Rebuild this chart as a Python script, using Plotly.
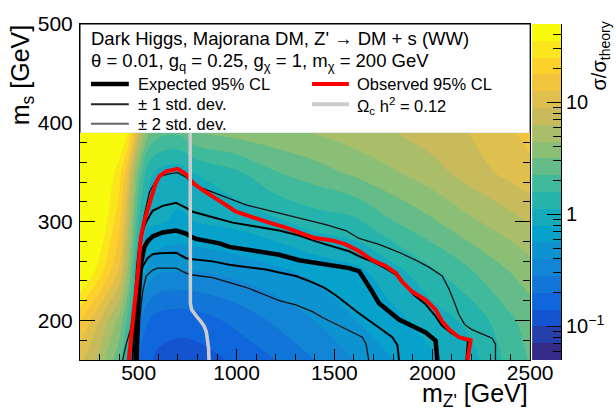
import numpy as np
import plotly.graph_objects as go

# ---------------------------------------------------------------------------
# Grid of the observed limit sigma/sigma_theory
# ---------------------------------------------------------------------------
mzp_grid = [200, 300, 400, 440, 470, 500, 550, 600, 700, 800, 1000, 1200,
            1400, 1600, 1800, 2000, 2200, 2400, 2500]
ms_grid = [160, 200, 250, 300, 350, 390]

mu_ms160 = [10, 5.5, 2.5, 1.2, 0.45, 0.2, 0.15, 0.13, 0.12, 0.12, 0.15, 0.2,
            0.28, 0.4, 0.56, 0.75, 0.98, 1.8, 2.3]
mu_ms200 = [18, 9, 4, 2.2, 1.15, 0.3, 0.2, 0.17, 0.16, 0.17, 0.22, 0.3,
            0.4, 0.55, 0.72, 0.92, 1.25, 2.1, 2.6]
mu_ms250 = [60, 30, 12, 5, 2.2, 0.8, 0.5, 0.42, 0.4, 0.4, 0.45, 0.52,
            0.62, 0.72, 0.98, 1.5, 2.2, 3.2, 3.8]
mu_ms300 = [60, 50, 20, 8, 3.5, 1.6, 0.85, 0.82, 0.75, 0.8, 0.88, 1.05,
            1.3, 1.45, 2.2, 3.0, 4.2, 5.5, 6.5]
mu_ms350 = [60, 60, 30, 15, 6, 2.8, 1.25, 1.02, 0.93, 1.15, 1.5, 2.2,
            2.7, 3.4, 4.3, 5.5, 7.5, 10, 11.5]
mu_ms390 = [60, 60, 50, 38, 18, 8, 3.3, 2.5, 2.35, 3.2, 3.6, 4.0,
            4.5, 5.3, 6.2, 7.5, 9.0, 12, 14]

# ---------------------------------------------------------------------------
# 95% CL exclusion contours (m_Z', m_s) in GeV
# ---------------------------------------------------------------------------
obs_mzp = [449, 461, 478, 490, 497, 504, 512, 529, 545, 563, 585, 606, 640,
           699, 742, 765, 784, 827, 878, 929, 997, 1082, 1167, 1252, 1320,
           1389, 1490, 1558, 1626, 1694, 1762, 1813, 1847, 1898, 1966, 2017,
           2051, 2085, 2136, 2196, 2179]
obs_ms = [160, 182, 207, 230, 250, 268, 285, 301, 312, 322, 338, 346, 351,
          353.5, 348, 342, 338, 332, 326, 319, 310, 304, 299, 294, 289,
          284, 281, 277, 270, 261, 255, 248, 239, 229, 221, 211,
          199, 191, 183, 180, 160]

exp_mzp = [485, 490, 497, 504, 512, 529, 545, 571, 622, 691, 742, 765, 793,
           861, 912, 963, 1048, 1133, 1218, 1320, 1405, 1490, 1575, 1626,
           1660, 1694, 1728, 1779, 1830, 1898, 1966, 2017, 2026]
exp_ms = [160, 190, 215, 235, 258, 274, 280, 285, 289, 291, 288, 285, 282.6,
          280, 278, 274.5, 272, 269.6, 266.5, 261, 258.3, 256, 253, 250,
          240, 228.8, 217.3, 209, 201, 194.4, 187.9, 179.7, 160]

p1s_mzp = [468, 476, 485, 492, 500, 508, 520, 538, 571, 622, 691, 742, 776,
           878, 980, 1082, 1218, 1320, 1405, 1490, 1575, 1626, 1700, 1760,
           1810, 1862, 1905, 1963, 2014, 2048, 2099, 2150, 2182, 2174]
p1s_ms = [160, 185, 215, 240, 262, 275, 290, 300, 311, 316, 319, 314, 310,
          304.5, 299, 295.7, 291, 286, 280, 275, 270, 265, 259, 253,
          247, 237, 226, 217, 205, 195, 187, 182, 179, 160]

p2s_mzp = [418, 436, 461, 478, 490, 500, 529, 555, 597, 648, 699, 742, 784,
           878, 980, 1048, 1150, 1252, 1354, 1456, 1558, 1626, 1728, 1830,
           1915, 1983, 2051, 2085, 2110, 2136, 2165, 2200, 2260, 2306, 2323,
           2323]
p2s_ms = [160, 176, 193, 222, 255, 275, 307, 330, 345, 348, 349.6, 345, 337,
          330, 322, 317, 312, 307, 302, 297, 291, 283, 277, 269,
          261, 254, 245, 232, 220, 206, 196, 191, 186, 182, 176,
          160]

m1s_mzp = [490, 497, 503, 512, 521, 545, 571, 606, 691, 742, 776, 878, 963,
           1048, 1150, 1218, 1303, 1388, 1450, 1507, 1560, 1620, 1670, 1730,
           1796, 1822, 1830]
m1s_ms = [160, 200, 230, 248, 255, 263, 267, 268, 268.6, 263, 262, 259.8,
          256.5, 254, 251.6, 248.5, 245, 238.5, 233, 225.5, 217, 208, 201,
          192, 183, 175, 160]

m2s_mzp = [497, 505, 512, 520, 538, 571, 597, 691, 742, 776, 878, 963, 1048,
           1150, 1218, 1303, 1388, 1439, 1541, 1600, 1643, 1662, 1672, 1675]
m2s_ms = [160, 200, 215, 229, 245, 251, 253, 253, 248, 246, 243.4, 238.5,
          233.6, 225.5, 220, 215.7, 209, 203, 193, 188, 183, 176, 166, 160]

# relic density Omega_c h^2 = 0.12
relic_mzp = [763, 763, 764, 770, 784, 800, 818, 835, 846, 853, 857, 859]
relic_ms = [390, 300, 218, 211, 207, 203, 199, 194, 188, 180, 172, 160]

# ---------------------------------------------------------------------------
# axis ticks
# ---------------------------------------------------------------------------
x_major = [500, 1000, 1500, 2000, 2500]
x_minor = [m for m in range(200, 2501, 100) if m % 500]
y_major = [200, 300, 400, 500]
y_minor = [m for m in range(160, 501, 20) if m % 100]

z_lo, z_hi, n_bands = 0.05, 50.0, 20
z_major = [0.1, 1, 10]
z_major_text = ["10<sup>\u22121</sup>", "1", "10"]
z_minor = [0.06, 0.07, 0.08, 0.09, 0.2, 0.3, 0.4, 0.5, 0.6, 0.7, 0.8, 0.9,
           2, 3, 4, 5, 6, 7, 8, 9, 20, 30, 40]

# ROOT "bird" palette
bird_pos = [0.0, 0.125, 0.25, 0.375, 0.5, 0.625, 0.75, 0.875, 1.0]
bird_r = [0.2082, 0.0592, 0.0780, 0.0232, 0.1802, 0.5301, 0.8186, 0.9956, 0.9764]
bird_g = [0.1664, 0.3599, 0.5041, 0.6419, 0.7178, 0.7492, 0.7328, 0.7862, 0.9832]
bird_b = [0.5293, 0.8684, 0.8385, 0.7914, 0.6425, 0.4662, 0.3499, 0.1968, 0.0539]
bird = [[p, "rgb(%d,%d,%d)" % (round(r * 255), round(g * 255), round(b * 255))]
        for p, r, g, b in zip(bird_pos, bird_r, bird_g, bird_b)]

FONT = "Liberation Sans, Arial, Helvetica, sans-serif"

# ---------------------------------------------------------------------------
# page geometry (pixels)
# ---------------------------------------------------------------------------
W, H = 616, 411
ML, MR, MT, MB = 80, 53, 13, 51
PW, PH = W - ML - MR, H - MT - MB
FRAME_R = 532          # right edge of the main frame
CB_L = 534             # colour bar left edge


def px(xp):
    return (xp - ML) / PW


def py(yp):
    return 1 - (yp - MT) / PH


log_lo, log_hi = np.log10(z_lo), np.log10(z_hi)
step = (log_hi - log_lo) / n_bands

fig = go.Figure()

# filled contour map of log10(sigma/sigma_theory)
z = np.log10(np.array([mu_ms160, mu_ms200, mu_ms250, mu_ms300, mu_ms350, mu_ms390]))
fig.add_trace(go.Contour(
    x=mzp_grid, y=ms_grid, z=z,
    autocontour=False,
    contours=dict(start=log_lo + step, end=log_hi - step, size=step,
                  coloring="fill", showlines=False),
    line=dict(width=0),
    colorscale=bird, showscale=False, hoverinfo="skip",
))

# exclusion contours
line_specs = [
    (m2s_mzp, m2s_ms, "#111111", 1.3),
    (p2s_mzp, p2s_ms, "#111111", 1.3),
    (m1s_mzp, m1s_ms, "#000000", 2.0),
    (p1s_mzp, p1s_ms, "#000000", 2.0),
    (exp_mzp, exp_ms, "#000000", 4.5),
    (obs_mzp, obs_ms, "#ff0000", 4.0),
    (relic_mzp, relic_ms, "#cccccc", 3.5),
]
for xs, ys, col, w in line_specs:
    fig.add_trace(go.Scatter(x=xs, y=ys, mode="lines",
                             line=dict(color=col, width=w),
                             hoverinfo="skip", showlegend=False))

# colour bar drawn as a one-column heatmap on its own log axis
band_edges = [10 ** (log_lo + i * step) for i in range(n_bands + 1)]
fig.add_trace(go.Heatmap(
    x=[0, 1], y=band_edges, z=[[i] for i in range(n_bands)],
    colorscale=bird, zmin=0, zmax=n_bands - 1, showscale=False,
    xaxis="x2", yaxis="y2", hoverinfo="skip",
))

tick_font = dict(family=FONT, size=21, color="black")
fig.update_layout(
    width=W, height=H,
    margin=dict(l=ML, r=MR, t=MT, b=MB, pad=0),
    paper_bgcolor="white", plot_bgcolor="white",
    showlegend=False,
    font=dict(family=FONT, color="black"),
    xaxis=dict(
        domain=[0, px(FRAME_R)], range=[200, 2500],
        showgrid=False, zeroline=False,
        showline=True, linecolor="black", linewidth=1, mirror="ticks",
        ticks="inside", ticklen=11, tickwidth=1, tickcolor="black",
        tickmode="array", tickvals=x_major, ticktext=[str(v) for v in x_major],
        minor=dict(tickmode="array", tickvals=x_minor, ticks="inside",
                   ticklen=6, tickwidth=1, tickcolor="black", showgrid=False),
        tickfont=tick_font, ticklabelstandoff=-6,
    ),
    yaxis=dict(
        range=[160, 500],
        showgrid=False, zeroline=False,
        showline=True, linecolor="black", linewidth=1, mirror="ticks",
        ticks="inside", ticklen=15, tickwidth=1, tickcolor="black",
        tickmode="array", tickvals=y_major, ticktext=[str(v) for v in y_major],
        minor=dict(tickmode="array", tickvals=y_minor, ticks="inside",
                   ticklen=7, tickwidth=1, tickcolor="black", showgrid=False),
        tickfont=tick_font, ticklabelstandoff=2,
    ),
    xaxis2=dict(domain=[px(CB_L), 1], range=[0, 1], anchor="y2",
                visible=False, fixedrange=True),
    yaxis2=dict(
        type="log", range=[log_lo, log_hi], anchor="x2", side="right",
        showgrid=False, zeroline=False,
        showline=True, linecolor="black", linewidth=1,
        ticks="inside", ticklen=14, tickwidth=1, tickcolor="black",
        tickmode="array", tickvals=z_major, ticktext=z_major_text,
        minor=dict(tickmode="array", tickvals=z_minor, ticks="inside",
                   ticklen=8, tickwidth=1, tickcolor="black", showgrid=False),
        tickfont=dict(family=FONT, size=20, color="black"),
    ),
)

# white legend panel on top of the frame, with its border
shapes = [
    dict(type="rect", xref="x", yref="y", x0=200, x1=2500, y0=390, y1=500,
         fillcolor="white", line=dict(width=0), layer="above"),
    dict(type="path", xref="x", yref="y",
         path="M 200,390 L 200,500 L 2500,500 L 2500,390",
         line=dict(color="black", width=1), layer="above"),
]

# legend line samples
legend_rows = [
    (91, 129, 75, "#000000", 4.5),
    (91, 129, 96, "#222222", 2.0),
    (91, 129, 116, "#666666", 2.0),
    (313, 350, 75, "#ff0000", 4.0),
    (313, 350, 96, "#cccccc", 4.0),
]
for x0, x1, yy, col, w in legend_rows:
    shapes.append(dict(type="line", xref="paper", yref="paper",
                       x0=px(x0), x1=px(x1), y0=py(yy), y1=py(yy),
                       line=dict(color=col, width=w), layer="above"))
fig.update_layout(shapes=shapes)

annotations = []


def note(text, x, y, size, xanchor="left", yanchor="middle", angle=0):
    annotations.append(dict(
        text=text, x=px(x), y=py(y), xref="paper", yref="paper",
        xanchor=xanchor, yanchor=yanchor, textangle=angle,
        showarrow=False, font=dict(family=FONT, size=size, color="black"),
    ))


note("Dark Higgs, Majorana DM, Z' \u2192 DM + s (WW)", 89, 28, 18.5)
note("\u03b8 = 0.01, g<sub>q</sub> = 0.25, g<sub>\u03c7</sub> = 1, "
     "m<sub>\u03c7</sub> = 200 GeV", 89, 52, 18.5)
note("Expected 95% CL", 136, 75, 16.5)
note("\u00b1 1 std. dev.", 136, 96, 16.5)
note("\u00b1 2 std. dev.", 136, 116, 16.5)
note("Observed 95% CL", 356, 75, 16.5)
note("\u03a9<sub>c</sub> h<sup>2</sup> = 0.12", 356, 98, 16.5)

# axis titles
note("m<sub>s</sub> [GeV]", 22, 12, 25, xanchor="center", yanchor="top", angle=-90)
note("m<sub>Z'</sub> [GeV]", 532, 396, 25, xanchor="right", yanchor="middle")
note("\u03c3/\u03c3<sub>theory</sub>", 603, 8, 20, xanchor="center",
     yanchor="top", angle=-90)
fig.update_layout(annotations=annotations)

fig.write_html("out.html")
